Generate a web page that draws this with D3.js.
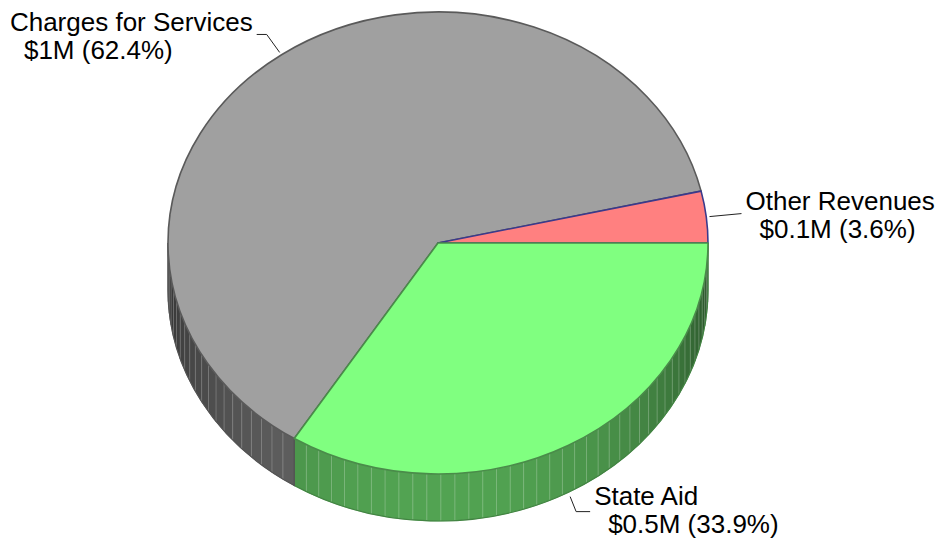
<!DOCTYPE html>
<html>
<head>
<meta charset="utf-8">
<script src="https://cdn.jsdelivr.net/npm/d3@7"></script>
<style>
  html, body { margin: 0; padding: 0; background: #ffffff; }
  svg { display: block; }
</style>
</head>
<body>
<div id="chart"></div>
<script>
// ---- Data ----
const categories = ["State Aid", "Charges for Services", "Other Revenues"];
const amountLabels = ["$0.5M", "$1M", "$0.1M"];
const shares = [33.9, 62.4, 3.6];

// ---- Styles ----
const topColors = {"State Aid": "#80ff80", "Charges for Services": "#a0a0a0", "Other Revenues": "#ff8080"};
const strokeColors = {"State Aid": "#4a8c4a", "Charges for Services": "#5a5a5a", "Other Revenues": "#3a3a8c"};
const sideColors = {"State Aid": "#80ff80", "Charges for Services": "#a0a0a0", "Other Revenues": "#ff8080"};

const W = 938, H = 543;
const cx = 438, cy = 243, rx = 270, ry = 231, depth = 47;

const svg = d3.select("#chart").append("svg").attr("width", W).attr("height", H);

const rows = categories.map((c, i) => ({cat: c, amt: amountLabels[i], share: shares[i]}));

// d3.pie angles clockwise from 12 o'clock; convert to screen angle (clockwise from 3 o'clock)
const pie = d3.pie().value(d => d.share).sort(null)
  .startAngle(Math.PI / 2).endAngle(Math.PI / 2 + 2 * Math.PI);
const arcs = pie(rows).map(a => ({...a, t0: a.startAngle - Math.PI / 2, t1: a.endAngle - Math.PI / 2}));

const px = t => cx + rx * Math.cos(t);
const py = t => cy + ry * Math.sin(t);

// ---- Sides (front half only) ----
const sideG = svg.append("g");
const step = 3 * Math.PI / 180;
function shade(base, t) {
  const c = d3.rgb(base);
  const f = 0.3 + 0.34 * Math.max(0, Math.sin(t));
  return d3.rgb(c.r * f, c.g * f, c.b * f);
}
arcs.forEach(a => {
  const lo = Math.max(a.t0, 0), hi = Math.min(a.t1, Math.PI);
  if (hi <= lo) return;
  const n = Math.max(1, Math.ceil((hi - lo) / step));
  const ts = d3.range(n + 1).map(i => lo + (hi - lo) * i / n);
  const base = sideColors[a.data.cat];
  for (let i = 0; i < n; i++) {
    const t0 = ts[i], t1 = ts[i + 1];
    const col = shade(base, (t0 + t1) / 2);
    const d = `M${px(t0)},${py(t0)} A${rx},${ry} 0 0 1 ${px(t1)},${py(t1)} L${px(t1)},${py(t1) + depth} A${rx},${ry} 0 0 0 ${px(t0)},${py(t0) + depth} Z`;
    sideG.append("path").attr("d", d).attr("fill", col).attr("stroke", col).attr("stroke-width", 0.6);
  }
  // facet highlight lines
  for (let i = 1; i < n; i++) {
    const t = ts[i];
    sideG.append("line")
      .attr("x1", px(t)).attr("y1", py(t)).attr("x2", px(t)).attr("y2", py(t) + depth)
      .attr("stroke", "rgba(255,255,255,0.22)").attr("stroke-width", 1);
  }
  // outline
  const outline = shade(base, Math.PI / 2).darker(0.6);
  const od = `M${px(lo)},${py(lo)} L${px(lo)},${py(lo) + depth} A${rx},${ry} 0 0 1 ${px(hi)},${py(hi) + depth} L${px(hi)},${py(hi)}`;
  sideG.append("path").attr("d", od).attr("fill", "none").attr("stroke", outline).attr("stroke-width", 1.2);
});

// ---- Top faces ----
const order = ["Charges for Services", "Other Revenues", "State Aid"];
const topG = svg.append("g");
order.forEach(cat => {
  const a = arcs.find(d => d.data.cat === cat);
  const large = (a.t1 - a.t0) > Math.PI ? 1 : 0;
  const d = `M${cx},${cy} L${px(a.t0)},${py(a.t0)} A${rx},${ry} 0 ${large} 1 ${px(a.t1)},${py(a.t1)} Z`;
  topG.append("path").attr("d", d)
    .attr("fill", topColors[cat])
    .attr("stroke", strokeColors[cat])
    .attr("stroke-width", 1.6)
    .attr("stroke-linejoin", "round");
});

// ---- Labels ----
const labelLayout = {
  "Charges for Services": {side: "left", elbow: [-13, -18], tail: -10, tx: -4, ty: -3},
  "Other Revenues": {side: "right", elbow: null, tail: [32, -3], tx: 4, ty: -4},
  "State Aid": {side: "right", elbow: [6, 15], tail: 14, tx: 4, ty: -7}
};
const fontSize = 26, lineGap = 28, indent = 14;
const labG = svg.append("g")
  .attr("font-family", "'Liberation Sans', Arial, Helvetica, sans-serif")
  .attr("font-size", fontSize).attr("fill", "#000");

arcs.forEach(a => {
  const cat = a.data.cat;
  const L = labelLayout[cat];
  const tm = (a.t0 + a.t1) / 2;
  let sx = cx + rx * 1.012 * Math.cos(tm);
  let sy = cy + ry * 1.012 * Math.sin(tm);
  if (Math.sin(tm) > 0.2) sy += depth + 2;
  let pts = [[sx, sy]];
  let end;
  if (L.elbow) {
    const e = [sx + L.elbow[0], sy + L.elbow[1]];
    pts.push(e);
    end = [e[0] + L.tail, e[1]];
  } else {
    end = [sx + L.tail[0], sy + L.tail[1]];
  }
  pts.push(end);
  labG.append("path").attr("d", d3.line()(pts)).attr("fill", "none")
    .attr("stroke", "#222").attr("stroke-width", 1);

  const t1 = labG.append("text").text(cat);
  const w1 = t1.node().getComputedTextLength();
  let x1;
  if (L.side === "left") x1 = end[0] + L.tx - w1;
  else x1 = end[0] + L.tx;
  const y1 = end[1] + L.ty;
  t1.attr("x", x1).attr("y", y1);
  labG.append("text").attr("x", x1 + indent).attr("y", y1 + lineGap)
    .text(`${a.data.amt} (${a.data.share.toFixed(1)}%)`);
});
</script>
</body>
</html>
